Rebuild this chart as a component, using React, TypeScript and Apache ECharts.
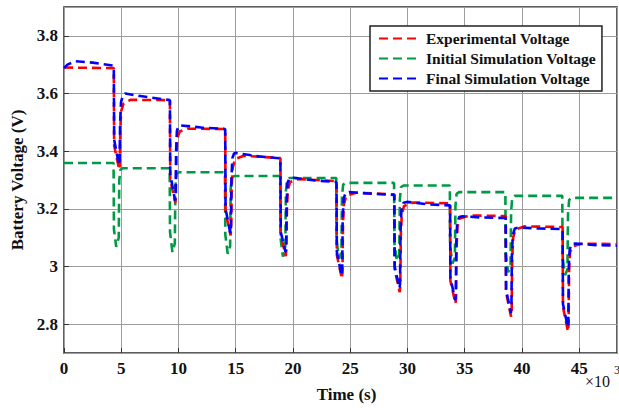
import React, { useEffect, useRef } from "react";
import * as echarts from "echarts";

// Time (s), voltage (V)
const experimentalVoltage: [number, number][] = [
  [0, 3.69], [4350, 3.688], [4380, 3.42], [4820, 3.336], [4870, 3.35], [4920, 3.48], [5000, 3.54], [5200, 3.566], [5800, 3.578], [9250, 3.577],
  [9280, 3.3], [9720, 3.222], [9770, 3.24], [9820, 3.39], [9900, 3.445], [10100, 3.468], [10800, 3.478], [14080, 3.477],
  [14110, 3.19], [14550, 3.108], [14600, 3.13], [14650, 3.28], [14730, 3.34], [14930, 3.372], [15700, 3.384], [18900, 3.376],
  [18930, 3.11], [19370, 3.036], [19420, 3.06], [19470, 3.2], [19550, 3.265], [19750, 3.293], [20500, 3.303], [23800, 3.296],
  [23830, 3.04], [24270, 2.958], [24320, 2.98], [24370, 3.15], [24450, 3.215], [24650, 3.245], [25500, 3.256], [28850, 3.25],
  [28880, 2.99], [29320, 2.911], [29370, 2.93], [29420, 3.11], [29500, 3.18], [29700, 3.21], [30500, 3.222], [33720, 3.219],
  [33750, 2.95], [34190, 2.872], [34240, 2.89], [34290, 3.07], [34370, 3.14], [34570, 3.166], [35400, 3.177], [38580, 3.175],
  [38610, 2.91], [39050, 2.826], [39100, 2.85], [39150, 3.03], [39230, 3.1], [39430, 3.128], [40200, 3.139], [43550, 3.137],
  [43580, 2.86], [44020, 2.774], [44070, 2.8], [44120, 2.99], [44200, 3.05], [44400, 3.07], [45200, 3.079], [48300, 3.078],
];

const initialSimulationVoltage: [number, number][] = [
  [0, 3.359], [4330, 3.359], [4360, 3.13], [4560, 3.068], [4780, 3.1], [4830, 3.3], [4930, 3.336], [5150, 3.341], [9230, 3.341],
  [9260, 3.12], [9470, 3.05], [9680, 3.08], [9730, 3.28], [9830, 3.321], [10050, 3.327], [14060, 3.327],
  [14090, 3.11], [14300, 3.044], [14510, 3.07], [14560, 3.27], [14660, 3.308], [14880, 3.314], [18880, 3.314],
  [18910, 3.1], [19120, 3.034], [19330, 3.06], [19380, 3.26], [19480, 3.301], [19700, 3.307], [23780, 3.307],
  [23810, 3.09], [24020, 3.027], [24230, 3.05], [24280, 3.24], [24380, 3.284], [24600, 3.29], [28830, 3.29],
  [28860, 3.08], [29070, 3.02], [29280, 3.04], [29330, 3.23], [29430, 3.275], [29650, 3.281], [33700, 3.281],
  [33720, 3.07], [33930, 3.01], [34140, 3.03], [34190, 3.21], [34290, 3.252], [34510, 3.258], [38550, 3.258],
  [38580, 3.04], [38790, 2.98], [39000, 3.0], [39050, 3.19], [39150, 3.238], [39370, 3.245], [43520, 3.245],
  [43550, 3.03], [43760, 2.97], [43970, 2.99], [44020, 3.18], [44120, 3.231], [44340, 3.238], [48300, 3.238],
];

const finalSimulationVoltage: [number, number][] = [
  [0, 3.688], [300, 3.7], [1000, 3.712], [2500, 3.707], [4300, 3.697], [4350, 3.69], [4380, 3.44], [4800, 3.352], [4860, 3.37], [4900, 3.5], [4980, 3.57], [5150, 3.594], [5350, 3.6], [6500, 3.592], [9250, 3.577],
  [9280, 3.32], [9700, 3.229], [9750, 3.245], [9790, 3.4], [9860, 3.47], [10000, 3.487], [10200, 3.489], [12000, 3.482], [14080, 3.477],
  [14110, 3.2], [14530, 3.115], [14580, 3.13], [14620, 3.3], [14700, 3.375], [14850, 3.392], [15000, 3.394], [17000, 3.382], [18900, 3.375],
  [18930, 3.12], [19350, 3.05], [19400, 3.06], [19440, 3.22], [19520, 3.29], [19700, 3.306], [20000, 3.308], [22000, 3.298], [23800, 3.293],
  [23830, 3.05], [24250, 2.969], [24300, 2.99], [24340, 3.16], [24420, 3.235], [24600, 3.255], [24900, 3.258], [27000, 3.252], [28850, 3.248],
  [28880, 3.0], [29300, 2.925], [29350, 2.94], [29390, 3.12], [29470, 3.195], [29650, 3.221], [29950, 3.224], [32000, 3.215], [33720, 3.212],
  [33750, 2.96], [34170, 2.883], [34220, 2.9], [34260, 3.08], [34340, 3.15], [34520, 3.172], [34800, 3.174], [36500, 3.17], [38580, 3.168],
  [38610, 2.92], [39030, 2.838], [39080, 2.86], [39120, 3.04], [39200, 3.11], [39380, 3.132], [39700, 3.135], [41500, 3.132], [43550, 3.13],
  [43580, 2.87], [44000, 2.79], [44050, 2.81], [44090, 3.0], [44170, 3.06], [44350, 3.078], [44650, 3.08], [46500, 3.074], [48300, 3.072],
];

const seriesNames = ["Experimental Voltage", "Initial Simulation Voltage", "Final Simulation Voltage"];
const xMin = 0;
const xMax = 48300;
const xInterval = 5000;
const yMin = 2.7;
const yMax = 3.9;

export default function App() {
  const ref = useRef<HTMLDivElement>(null);
  useEffect(() => {
    const chart = echarts.init(ref.current!, null, { renderer: "svg" });
    const font = "'Liberation Serif', 'Times New Roman', serif";
    const dash = [9, 5];
    chart.setOption({
      animation: false,
      backgroundColor: "#ffffff",
      grid: {
        left: 64, top: 7, right: 2, bottom: 54,
        show: true, borderColor: "#2b2b2b", borderWidth: 1.5, backgroundColor: "transparent",
      },
      xAxis: {
        type: "value", min: xMin, max: xMax, interval: xInterval,
        name: "Time (s)", nameLocation: "middle", nameGap: 33,
        nameTextStyle: { fontFamily: font, fontWeight: "bold", fontSize: 17, color: "#111", padding: [0, 0, 0, 12] },
        axisLine: { show: false },
        axisTick: { inside: true, length: 5, lineStyle: { color: "#333" } },
        axisLabel: {
          formatter: (v: number) => String(v / 1000), showMaxLabel: false, margin: 7,
          fontFamily: font, fontWeight: "bold", fontSize: 17, color: "#111",
        },
        splitLine: { lineStyle: { color: "#9c9c9c", width: 1 } },
      },
      yAxis: {
        type: "value", min: yMin, max: yMax, splitNumber: 6,
        name: "Battery Voltage (V)", nameLocation: "middle", nameGap: 37, nameRotate: 90,
        nameTextStyle: { fontFamily: font, fontWeight: "bold", fontSize: 17, color: "#111" },
        axisLine: { show: false },
        axisTick: { inside: true, length: 5, lineStyle: { color: "#333" } },
        axisLabel: {
          showMinLabel: false, showMaxLabel: false, margin: 6,
          fontFamily: font, fontWeight: "bold", fontSize: 17, color: "#111",
        },
        splitLine: { lineStyle: { color: "#9c9c9c", width: 1 } },
      },
      legend: {
        data: seriesNames,
        orient: "vertical", left: 370, top: 26,
        padding: [4, 6, 4, 8], itemGap: 3, itemWidth: 39, itemHeight: 14,
        backgroundColor: "#ffffff", borderColor: "#222", borderWidth: 1.5,
        itemStyle: { opacity: 0 },
        textStyle: { fontFamily: font, fontWeight: "bold", fontSize: 15.5, color: "#111", lineHeight: 17, padding: [0, 0, 0, 3] },
      },
      graphic: [
        { type: "text", x: 585, y: 373, style: { text: "×10", fontFamily: font, fontSize: 16, fill: "#111", verticalAlign: "top" } },
        { type: "text", x: 614, y: 364, style: { text: "3", fontFamily: font, fontSize: 12, fill: "#111", verticalAlign: "top" } },
      ],
      series: [
        {
          name: seriesNames[0], type: "line", data: experimentalVoltage, symbol: "none", z: 2,
          lineStyle: { color: "#ff0000", width: 2.6, type: dash }, itemStyle: { color: "#ff0000" },
        },
        {
          name: seriesNames[1], type: "line", data: initialSimulationVoltage, symbol: "none", z: 1,
          lineStyle: { color: "#009a44", width: 2.6, type: dash }, itemStyle: { color: "#009a44" },
        },
        {
          name: seriesNames[2], type: "line", data: finalSimulationVoltage, symbol: "none", z: 3,
          lineStyle: { color: "#0000ff", width: 2.6, type: dash }, itemStyle: { color: "#0000ff" },
        },
      ],
    });
    return () => chart.dispose();
  }, []);
  return <div ref={ref} style={{ position: "fixed", left: 0, top: 0, width: 619, height: 408 }} />;
}
